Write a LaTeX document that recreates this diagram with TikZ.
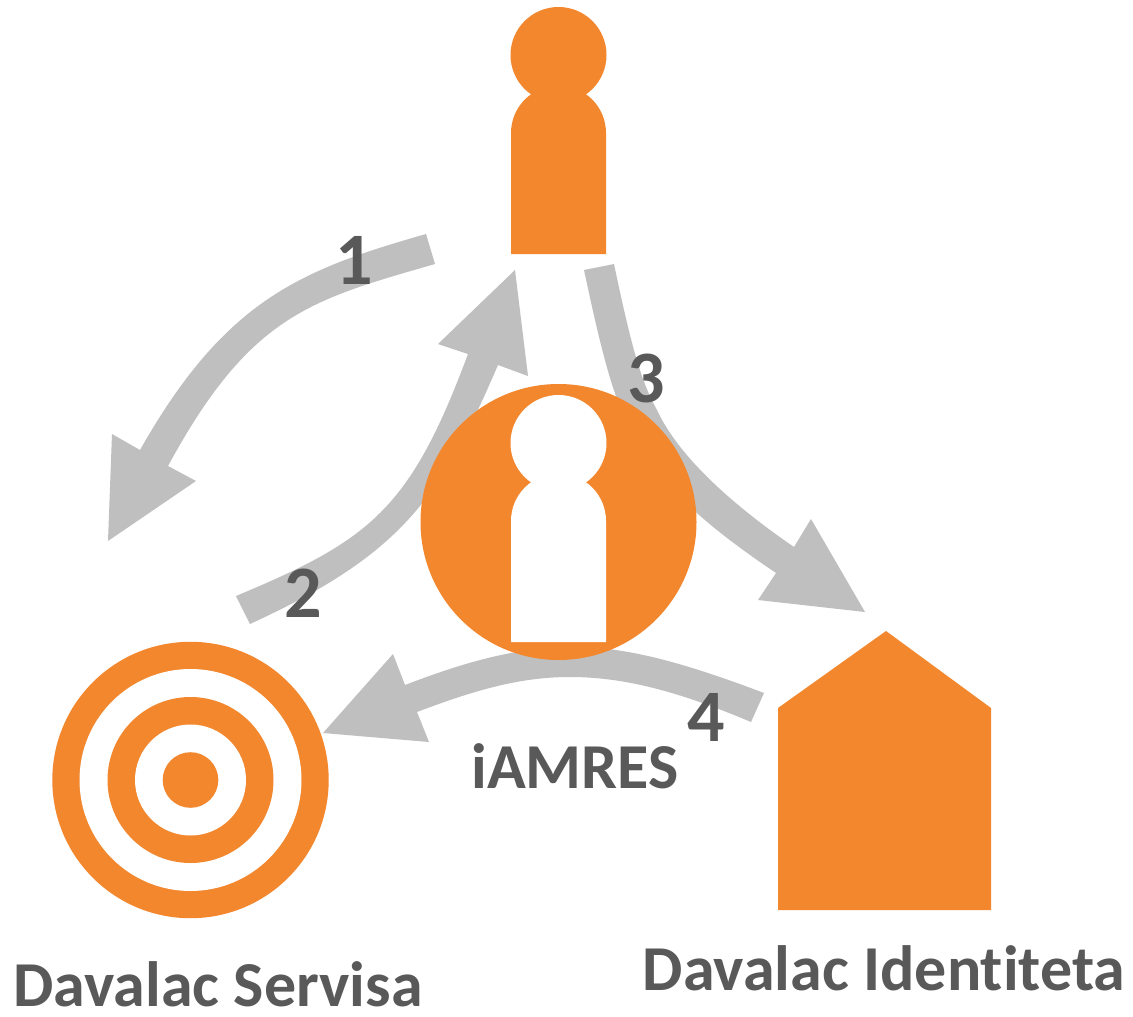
\documentclass[tikz,border=0pt]{standalone}
\usepackage{fontspec}
\setmainfont[Ligatures=NoCommon]{Carlito}
\definecolor{org}{HTML}{F2872E}
\definecolor{gr}{HTML}{BFBFBF}
\definecolor{tx}{HTML}{595959}
\tikzset{lab/.style={text=tx,font=\bfseries\fontsize{64}{66}\selectfont,inner sep=0pt,anchor=base},
num/.style={text=tx,font=\bfseries\fontsize{74}{76}\selectfont,inner sep=0pt,anchor=base}}
\newcommand{\person}[3]{\fill[#3] (#1,#2) circle (48);
\fill[#3] (#1-47.5,#2+199) -- (#1-47.5,#2+78) arc (180:360:47.5) -- (#1+47.5,#2+199) -- cycle;}
\begin{document}
\begin{tikzpicture}[x=1pt,y=-1pt]
\useasboundingbox (0,0) rectangle (1133,1017);
\fill[white] (0,0) rectangle (1133,1017);
% arrow 1
\fill[gr] (426,234) .. controls (300,270) and (225,300) .. (140,450) -- (112,434) -- (108,541) -- (196,481) -- (168,466) .. controls (250,315) and (310,300) .. (435,264) -- cycle;
% arrow 2
\fill[gr] (236,596) .. controls (370,540) and (410,510) .. (468,354) -- (438,344) -- (515,270) -- (528,376) -- (498,365) .. controls (440,500) and (400,555) .. (250,624) -- cycle;
% arrow 3
\fill[gr] (614,264) .. controls (630,340) and (640,380) .. (657,410) .. controls (680,460) and (740,510) .. (794,547) -- (811,519) -- (865,612) -- (758,600) -- (776,573) .. controls (720,535) and (660,490) .. (630,430) .. controls (610,390) and (598,335) .. (584,270) -- cycle;
% arrow 4
\fill[gr] (405,685) .. controls (470,660) and (520,647) .. (575,647) .. controls (630,647) and (690,665) .. (764,693) -- (751,722) .. controls (680,692) and (625,677) .. (570,677) .. controls (520,677) and (475,690) .. (417,712) -- (429,742) -- (323,733) -- (393,654) -- cycle;
% user
\person{558.5}{55}{org}
% iAMRES circle
\fill[org] (558.5,522) circle (138);
\person{558.5}{443}{white}
% target
\fill[org] (190.5,780) circle (138.2);
\fill[white] (190.5,780) circle (111);
\fill[org] (190.5,780) circle (83);
\fill[white] (190.5,780) circle (55.5);
\fill[org] (190.5,780) circle (27.8);
% house
\fill[org] (778,708) -- (886,631) -- (991,708) -- (991,910) -- (778,910) -- cycle;
\node[num] (n1) at (354,284) {1};
\node[num] (n2) at (303,617) {2};
\node[num] (n3) at (646,402) {3};
\node[num] (n4) at (706,741) {4};
\node[lab] (t1) at (575,788) {iAMRES};
\node[lab] (t2) at (218,1006) {Davalac Servisa};
\node[lab] (t3) at (884,990) {Davalac Identiteta};
\end{tikzpicture}
\end{document}
